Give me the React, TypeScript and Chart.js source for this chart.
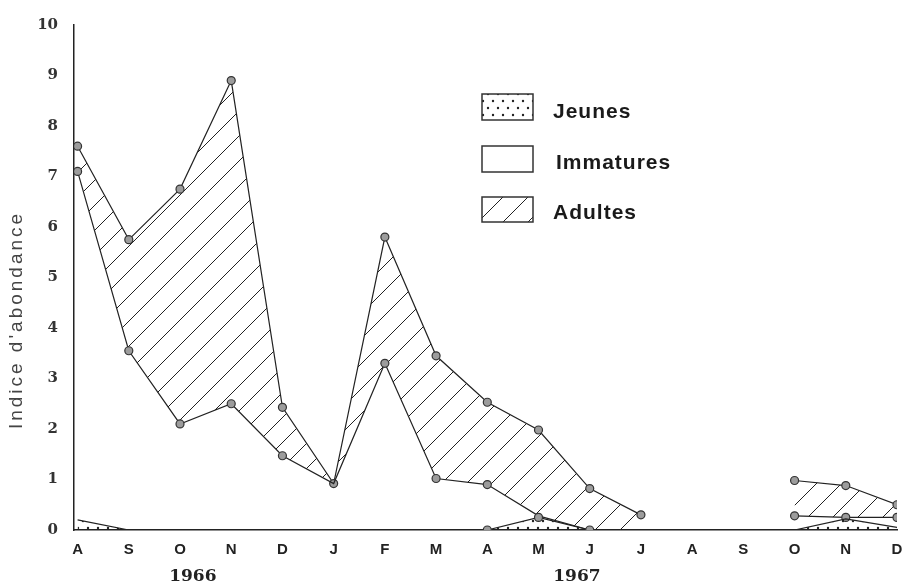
import React, { useEffect, useRef } from 'react';
import { Chart, registerables } from 'chart.js';

Chart.register(...registerables);

// ---- data ----
const months = ['A', 'S', 'O', 'N', 'D', 'J', 'F', 'M', 'A', 'M', 'J', 'J', 'A', 'S', 'O', 'N', 'D'];
const years = ['1966', '1967'];
const yearPositions = [2.25, 9.75];
const yTickValues = [0, 1, 2, 3, 4, 5, 6, 7, 8, 9, 10];
const legendLabels = ['Jeunes', 'Immatures', 'Adultes'];
const yTitle = "Indice d'abondance";

// layer values (indices d'abondance) per month
const jeunes: (number | null)[] = [0.2, 0, 0, 0, 0, 0, 0, 0, 0, 0.25, 0, 0, 0, 0, 0, 0.22, 0.05];
const immatures: (number | null)[] = [6.9, 3.55, 2.1, 2.5, 1.47, 0.92, 3.3, 1.02, 0.9, 0.03, 0, 0, null, null, 0.28, 0.03, 0.2];
const adultes: (number | null)[] = [0.5, 2.2, 4.65, 6.4, 0.96, 0, 2.5, 2.43, 1.63, 1.7, 0.82, 0.3, null, null, 0.7, 0.63, 0.25];

// which points carry a marker on each boundary line
const jeunesMarkers = [8, 9, 10];
const immaturesMarkers = [0, 1, 2, 3, 4, 6, 7, 8, 14, 15, 16];
const adultesMarkers = [0, 1, 2, 3, 4, 5, 6, 7, 8, 9, 10, 11, 14, 15, 16];

function cumulate(a: (number | null)[], b: (number | null)[]): (number | null)[] {
  return a.map((v, i) => (v === null || b[i] === null ? null : (v as number) + (b[i] as number)));
}

function hatchPattern(ctx: CanvasRenderingContext2D): CanvasPattern {
  const c = document.createElement('canvas');
  const s = 25;
  c.width = s;
  c.height = s;
  const g = c.getContext('2d')!;
  g.strokeStyle = '#222';
  g.lineWidth = 1;
  g.beginPath();
  g.moveTo(-2, s + 2);
  g.lineTo(s + 2, -2);
  g.stroke();
  return ctx.createPattern(c, 'repeat')!;
}

function dotPattern(ctx: CanvasRenderingContext2D): CanvasPattern {
  const c = document.createElement('canvas');
  c.width = 20;
  c.height = 14;
  const g = c.getContext('2d')!;
  g.fillStyle = '#222';
  const dots = [
    [3, 3],
    [13, 3],
    [8, 10],
    [18, 10],
  ];
  for (const [x, y] of dots) {
    g.beginPath();
    g.arc(x, y, 1.2, 0, Math.PI * 2);
    g.fill();
  }
  return ctx.createPattern(c, 'repeat')!;
}

export default function App() {
  const ref = useRef<HTMLCanvasElement | null>(null);

  useEffect(() => {
    const canvas = ref.current;
    if (!canvas) return;
    const ctx = canvas.getContext('2d')!;
    const hatch = hatchPattern(ctx);
    const dots = dotPattern(ctx);

    const jTop = jeunes.slice();
    const iTop = cumulate(jTop, immatures);
    const tTop = cumulate(iTop, adultes);

    const toXY = (arr: (number | null)[]) => arr.map((v, i) => ({ x: i, y: v }));
    const markerRadius = (set: number[]) => (c: any) => (set.includes(c.dataIndex) ? 4 : 0);

    const pointStyle = {
      pointBackgroundColor: '#9c9c9c',
      pointBorderColor: '#333',
      pointBorderWidth: 1.2,
      pointHoverRadius: 0,
    };

    const extras = {
      id: 'extras',
      afterDraw(chart: any) {
        const c = chart.ctx as CanvasRenderingContext2D;
        const xs = chart.scales.x;
        c.save();
        // year labels
        c.fillStyle = '#222';
        c.font = 'bold 17px "DejaVu Serif"';
        c.textAlign = 'center';
        c.textBaseline = 'middle';
        years.forEach((y, i) => c.fillText(y, xs.getPixelForValue(yearPositions[i]), 577));

        // y axis title
        c.save();
        c.translate(17, 320);
        c.rotate(-Math.PI / 2);
        c.fillStyle = '#444';
        c.font = '19px "Liberation Sans"';
        (c as any).letterSpacing = '3px';
        c.textAlign = 'center';
        c.textBaseline = 'middle';
        c.fillText(yTitle, 0, 0);
        c.restore();

        // legend
        const boxes = [
          { y: 94, h: 26, fill: dots, tx: 553, ty: 112 },
          { y: 146, h: 26, fill: null, tx: 556, ty: 163 },
          { y: 197, h: 25, fill: hatch, tx: 553, ty: 213 },
        ];
        boxes.forEach((b, i) => {
          c.save();
          if (b.fill) {
            c.fillStyle = b.fill as any;
            c.fillRect(482, b.y, 51, b.h);
          }
          c.strokeStyle = '#333';
          c.lineWidth = 1.5;
          c.strokeRect(482, b.y, 51, b.h);
          c.restore();
          c.save();
          c.fillStyle = '#1a1a1a';
          c.font = 'bold 21px "Liberation Sans"';
          (c as any).letterSpacing = '1px';
          c.textAlign = 'left';
          c.textBaseline = 'middle';
          c.fillText(legendLabels[i], b.tx, b.ty);
          c.restore();
        });
        c.restore();
      },
    };

    const chart = new Chart(canvas, {
      type: 'line',
      data: {
        datasets: [
          {
            label: legendLabels[0],
            data: toXY(jTop),
            borderColor: '#222',
            borderWidth: 1.2,
            backgroundColor: dots,
            fill: 'origin',
            pointRadius: markerRadius(jeunesMarkers),
            tension: 0,
            ...pointStyle,
          },
          {
            label: legendLabels[1],
            data: toXY(iTop),
            borderColor: '#222',
            borderWidth: 1.2,
            fill: false,
            pointRadius: markerRadius(immaturesMarkers),
            tension: 0,
            spanGaps: false,
            ...pointStyle,
          },
          {
            label: legendLabels[2],
            data: toXY(tTop),
            borderColor: '#222',
            borderWidth: 1.2,
            backgroundColor: hatch,
            fill: { target: 1 },
            pointRadius: markerRadius(adultesMarkers),
            tension: 0,
            spanGaps: false,
            ...pointStyle,
          },
        ],
      },
      options: {
        animation: false,
        responsive: false,
        maintainAspectRatio: false,
        layout: { padding: { top: 19, right: 18, left: 0, bottom: 0 } },
        plugins: {
          legend: { display: false },
          tooltip: { enabled: false },
          title: { display: false },
        },
        scales: {
          x: {
            type: 'linear',
            min: -0.07,
            max: 16,
            grid: { display: false, drawTicks: false },
            border: { display: true, color: '#222', width: 1.5 },
            afterBuildTicks: (s: any) => {
              s.ticks = months.map((_, i) => ({ value: i }));
            },
            afterFit: (s: any) => {
              s.height = 58;
            },
            ticks: {
              autoSkip: false,
              maxRotation: 0,
              padding: 11,
              color: '#222',
              font: { family: '"Liberation Sans"', weight: 'bold', size: 15 },
              callback: (v: any) => months[Math.round(v)] ?? '',
            },
          },
          y: {
            min: 0,
            max: 10,
            grid: { display: false, drawTicks: false },
            border: { display: true, color: '#222', width: 1.5 },
            afterBuildTicks: (s: any) => {
              s.ticks = yTickValues.map((v) => ({ value: v }));
            },
            afterFit: (s: any) => {
              s.width = 74;
            },
            ticks: {
              padding: 16,
              color: '#333',
              font: { family: '"DejaVu Serif"', weight: 'bold', size: 15 },
              callback: (v: any) => String(v),
            },
          },
        },
      } as any,
      plugins: [extras],
    });

    return () => chart.destroy();
  }, []);

  return (
    <div style={{ position: 'fixed', left: 0, top: 0, width: 915, height: 588, background: '#fff' }}>
      <canvas ref={ref} width={915} height={588} style={{ display: 'block', width: 915, height: 588 }} />
    </div>
  );
}
